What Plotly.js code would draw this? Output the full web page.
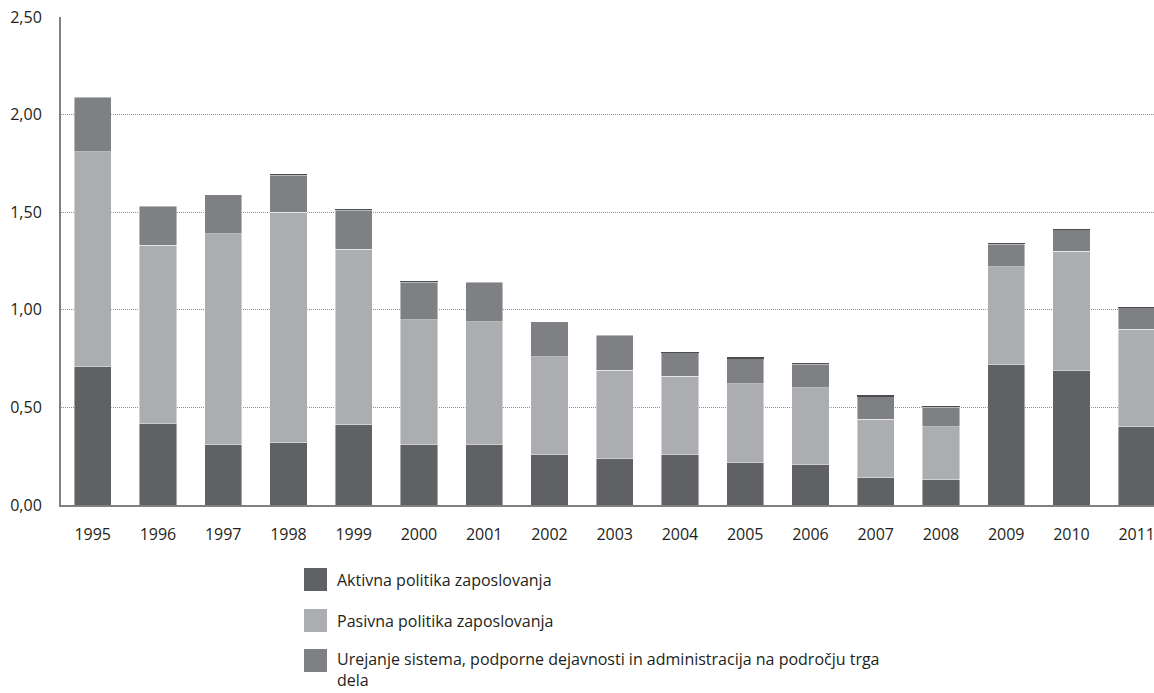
<!DOCTYPE html>
<html>
<head>
<meta charset="utf-8">
<script src="https://cdn.plot.ly/plotly-3.0.1.min.js"></script>
<style>html,body{margin:0;padding:0;background:#fff;}#chart{width:1154px;height:693px;}</style>
</head>
<body>
<div id="chart"></div>
<script>
const years = ['1995','1996','1997','1998','1999','2000','2001','2002','2003','2004','2005','2006','2007','2008','2009','2010','2011'];
const aktivna = [0.71,0.42,0.31,0.32,0.41,0.31,0.31,0.26,0.24,0.26,0.22,0.21,0.14,0.13,0.72,0.69,0.40];
const pasivna = [1.10,0.91,1.08,1.18,0.90,0.64,0.63,0.50,0.45,0.40,0.40,0.39,0.30,0.27,0.50,0.61,0.50];
const urejanje = [0.28,0.20,0.20,0.19,0.20,0.19,0.20,0.18,0.18,0.12,0.13,0.12,0.115,0.10,0.115,0.11,0.11];
const ostalo = [0,0,0,0.006,0.006,0.006,0,0,0,0.006,0.006,0.006,0.006,0.006,0.006,0.006,0.006];
const names = ['Aktivna politika zaposlovanja','Pasivna politika zaposlovanja','Urejanje sistema, podporne dejavnosti in administracija na področju trga<br>dela'];
const colors = ['#606165','#acadb0','#7f8083'];
const topColor = '#4b4c50';
const yTicks = [0,0.5,1,1.5,2,2.5];

const FONT = 'Open Sans, Liberation Sans, sans-serif';
const W = 1154, H = 693, L = 61, R = 0, T = 17, B = 188;
const pw = W - L - R, ph = H - T - B;
const px2x = p => (p - L) / pw;
const px2y = p => (H - B - p) / ph;

const series = [aktivna, pasivna, urejanje];
const traces = series.map((s, i) => ({
  type: 'bar', x: years, y: s, name: names[i],
  marker: {color: colors[i], line: {color: 'rgba(255,255,255,0.55)', width: 0.8}},
  hoverinfo: 'x+y', showlegend: false
}));
traces.push({type: 'bar', x: years, y: ostalo, name: 'ostalo',
  marker: {color: topColor, line: {width: 0}}, showlegend: false, hoverinfo: 'skip'});

const shapes = [], annotations = [];
const legTops = [568, 609, 649];
const legTextY = [580, 621, 669];
names.forEach((n, i) => {
  shapes.push({type: 'rect', xref: 'paper', yref: 'paper',
    x0: px2x(304), x1: px2x(327), y0: px2y(legTops[i] + 23), y1: px2y(legTops[i]),
    fillcolor: colors[i], line: {width: 0}});
  annotations.push({xref: 'paper', yref: 'paper', x: px2x(336), y: px2y(legTextY[i]),
    xanchor: 'left', yanchor: 'middle', align: 'left', showarrow: false, text: n,
    borderpad: 0, font: {family: FONT, size: 16, color: '#231f20'}});
});

const layout = {
  width: W, height: H,
  margin: {l: L, r: R, t: T, b: B, pad: 0},
  paper_bgcolor: '#fff', plot_bgcolor: '#fff',
  barmode: 'stack', bargap: 0.43,
  font: {family: FONT, size: 16, color: '#231f20'},
  xaxis: {type: 'category', range: [-0.486, 16.265], showgrid: false, zeroline: false,
    showline: true, linecolor: '#808080', linewidth: 2, ticks: '', ticklabelstandoff: 14,
    tickfont: {family: FONT, size: 16, color: '#231f20'}, fixedrange: true},
  yaxis: {range: [0, 2.5], tickvals: yTicks, tickformat: '.2f', showgrid: true,
    gridcolor: '#8f8f8f', gridwidth: 1, griddash: '1px,1px', zeroline: false,
    showline: true, linecolor: '#808080', linewidth: 2, ticks: '', ticklabelstandoff: 14,
    tickfont: {family: FONT, size: 16, color: '#231f20'}, fixedrange: true},
  separators: ',.',
  showlegend: false,
  shapes: shapes, annotations: annotations
};

Plotly.newPlot('chart', traces, layout, {displayModeBar: false, staticPlot: true});
</script>
</body>
</html>
